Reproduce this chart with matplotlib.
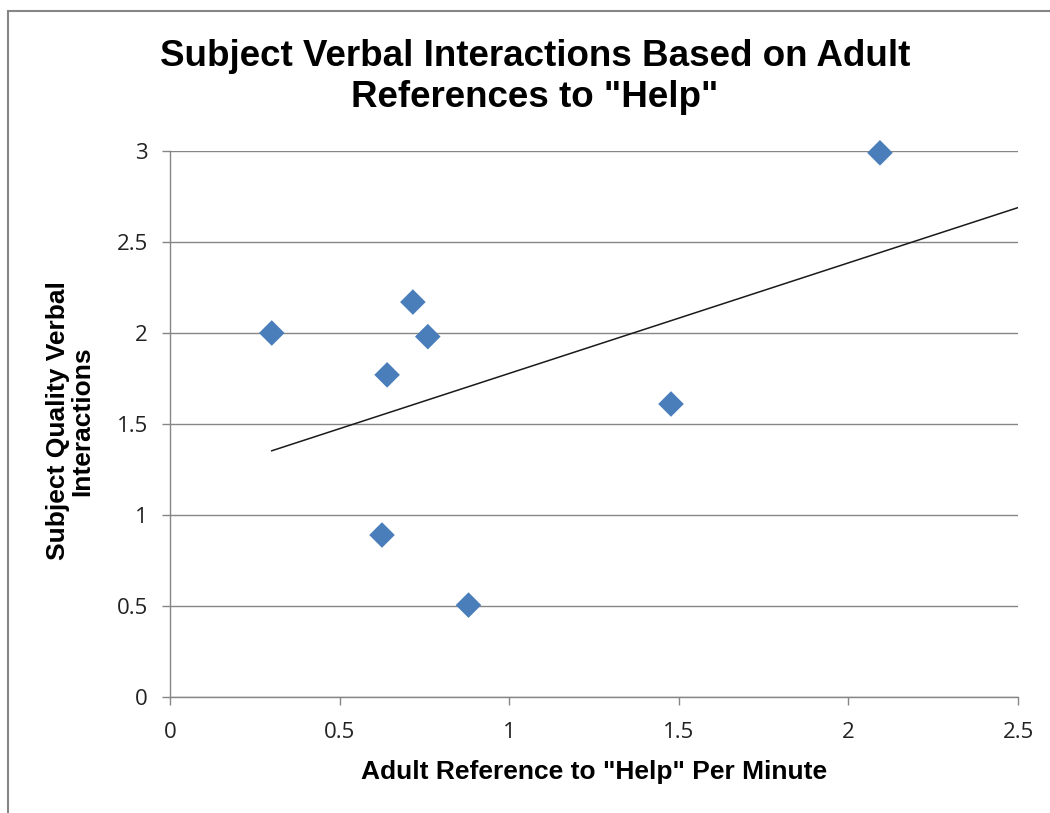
import matplotlib
matplotlib.use("Agg")
import matplotlib.pyplot as plt
from matplotlib.patches import Rectangle
import numpy as np

x_vals = [0.30, 0.716, 0.76, 0.64, 0.625, 0.88, 1.477, 2.093]
y_vals = [2.00, 2.17, 1.98, 1.77, 0.89, 0.505, 1.61, 2.99]
x_ticks = [0, 0.5, 1, 1.5, 2, 2.5]
x_tick_labels = ["0", "0.5", "1", "1.5", "2", "2.5"]
y_ticks = [0, 0.5, 1, 1.5, 2, 2.5, 3]
y_tick_labels = ["0", "0.5", "1", "1.5", "2", "2.5", "3"]

W, H = 1050, 813
fig = plt.figure(figsize=(W/100, H/100), dpi=100)
fig.patches.append(Rectangle((8/W, -0.2), 1.2, 1.2 - 11/H, transform=fig.transFigure,
                             fill=False, edgecolor="#868686", linewidth=1.5))

ax = fig.add_axes([170/W, 1 - 697/H, (1018-170)/W, (697-151)/H])
ax.set_xlim(0, 2.5)
ax.set_ylim(0, 3)
ax.set_xticks(x_ticks)
ax.set_xticklabels(x_tick_labels)
ax.set_yticks(y_ticks)
ax.set_yticklabels(y_tick_labels)
ax.yaxis.grid(True, color="#868686", linewidth=1)
ax.set_axisbelow(True)
for s in ["top", "right"]:
    ax.spines[s].set_visible(False)
for s in ["left", "bottom"]:
    ax.spines[s].set_color("#868686")
    ax.spines[s].set_linewidth(1)
ax.tick_params(direction="out", length=6, color="#868686", width=1,
               labelsize=16, labelcolor="#222222")
ax.tick_params(axis="x", pad=12)
ax.tick_params(axis="y", pad=10)
for lab in ax.get_xticklabels() + ax.get_yticklabels():
    lab.set_family("Open Sans")

xa = np.array(x_vals)
ya = np.array(y_vals)
m, b = np.polyfit(xa, ya, 1)
xl = np.array([xa.min(), 2.5])
ax.plot(xl, m*xl + b, color="#1a1a1a", linewidth=1.1, zorder=2)
ax.scatter(xa, ya, marker="D", s=170, color="#4A7EBB", edgecolors="none", zorder=3,
           clip_on=False)

fig.text(535/W, 1 - 77/H, 'Subject Verbal Interactions Based on Adult\nReferences to "Help"',
         ha="center", va="center", fontsize=26.5, fontweight="bold",
         family="Liberation Sans", linespacing=1.22)
fig.text(594/W, 1 - 772/H, 'Adult Reference to "Help" Per Minute', ha="center", va="center",
         fontsize=19, fontweight="bold", family="Liberation Sans")
fig.text(70/W, 1 - 421/H, 'Subject Quality Verbal\nInteractions', ha="center", va="center",
         rotation=90, fontsize=19, fontweight="bold", family="Liberation Sans",
         linespacing=1.05)

fig.savefig("out.png", dpi=100)
